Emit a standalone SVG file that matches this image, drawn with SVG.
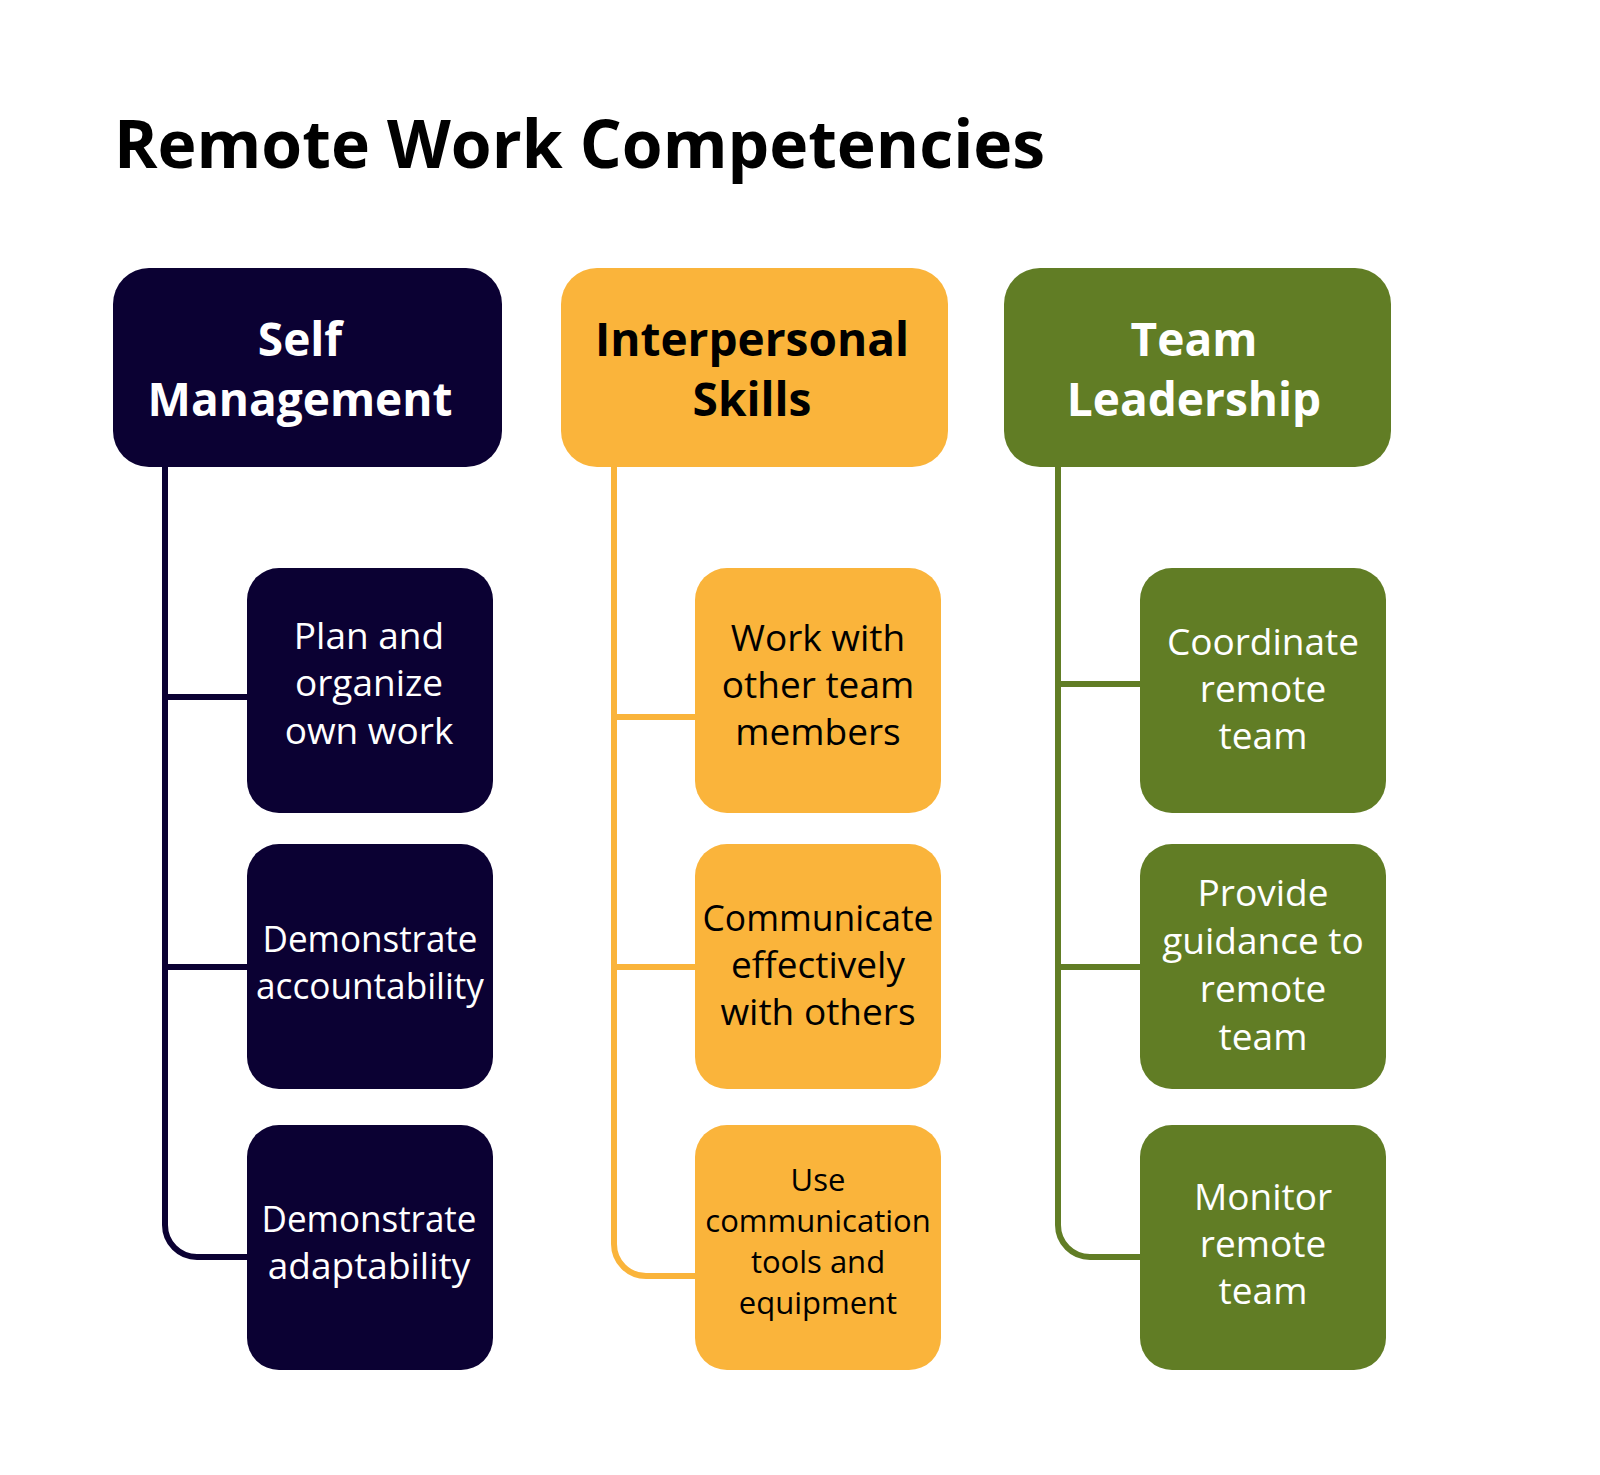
<svg xmlns="http://www.w3.org/2000/svg" width="1600" height="1475" viewBox="0 0 1600 1475">
<style>
text{font-family:"Open Sans","Noto Sans","DejaVu Sans",sans-serif;text-anchor:middle}
.title{font-size:66px;font-weight:700;text-anchor:start;fill:#000}
.h{font-size:46px;font-weight:700}
.c{font-size:37px}
.cs{font-size:31px}
.navy{fill:#0B0133}
.orange{fill:#FAB43B}
.green{fill:#617D25}
.w{fill:#fff}
.k{fill:#000}
.ln{fill:none;stroke-width:6}
</style>
<rect width="1600" height="1475" fill="#fff"/>
<text class="title" x="114" y="168">Remote Work Competencies</text>
<g id="connectors">
<path class="ln" stroke="#0B0133" d="M165 467 V1225 A32 32 0 0 0 197 1257 H247 M165 697 H247 M165 967 H247"/>
<path class="ln" stroke="#FAB43B" d="M614 467 V1244 A32 32 0 0 0 646 1276 H695 M614 717 H695 M614 967 H695"/>
<path class="ln" stroke="#617D25" d="M1058 467 V1225 A32 32 0 0 0 1090 1257 H1140 M1058 684 H1140 M1058 967 H1140"/>
</g>
<g id="self-management">
<rect class="navy" x="113" y="268" width="389" height="199" rx="36"/>
<text class="h w" x="300" y="356">Self</text>
<text class="h w" x="300" y="416">Management</text>
</g>
<g id="interpersonal-skills">
<rect class="orange" x="561" y="268" width="387" height="199" rx="36"/>
<text class="h k" x="752" y="356">Interpersonal</text>
<text class="h k" x="752" y="416">Skills</text>
</g>
<g id="team-leadership">
<rect class="green" x="1004" y="268" width="387" height="199" rx="36"/>
<text class="h w" x="1194" y="356">Team</text>
<text class="h w" x="1194" y="416">Leadership</text>
</g>
<g id="plan-organize">
<rect class="navy" x="247" y="568" width="246" height="245" rx="32"/>
<text class="c w" x="369" y="649">Plan and</text>
<text class="c w" x="369" y="696">organize</text>
<text class="c w" x="369" y="744">own work</text>
</g>
<g id="accountability">
<rect class="navy" x="247" y="844" width="246" height="245" rx="32"/>
<text class="c w" x="370" y="952" textLength="215" lengthAdjust="spacingAndGlyphs">Demonstrate</text>
<text class="c w" x="370" y="999" textLength="228" lengthAdjust="spacingAndGlyphs">accountability</text>
</g>
<g id="adaptability">
<rect class="navy" x="247" y="1125" width="246" height="245" rx="32"/>
<text class="c w" x="369" y="1232" textLength="215" lengthAdjust="spacingAndGlyphs">Demonstrate</text>
<text class="c w" x="369" y="1279">adaptability</text>
</g>
<g id="work-with-team">
<rect class="orange" x="695" y="568" width="246" height="245" rx="32"/>
<text class="c k" x="818" y="651">Work with</text>
<text class="c k" x="818" y="698">other team</text>
<text class="c k" x="818" y="745">members</text>
</g>
<g id="communicate">
<rect class="orange" x="695" y="844" width="246" height="245" rx="32"/>
<text class="c k" x="818" y="931" textLength="231" lengthAdjust="spacingAndGlyphs">Communicate</text>
<text class="c k" x="818" y="978">effectively</text>
<text class="c k" x="818" y="1025">with others</text>
</g>
<g id="use-tools">
<rect class="orange" x="695" y="1125" width="246" height="245" rx="32"/>
<text class="cs k" x="818" y="1191">Use</text>
<text class="cs k" x="818" y="1232">communication</text>
<text class="cs k" x="818" y="1273">tools and</text>
<text class="cs k" x="818" y="1314">equipment</text>
</g>
<g id="coordinate">
<rect class="green" x="1140" y="568" width="246" height="245" rx="32"/>
<text class="c w" x="1263" y="655">Coordinate</text>
<text class="c w" x="1263" y="702">remote</text>
<text class="c w" x="1263" y="749">team</text>
</g>
<g id="guidance">
<rect class="green" x="1140" y="844" width="246" height="245" rx="32"/>
<text class="c w" x="1263" y="906">Provide</text>
<text class="c w" x="1263" y="954">guidance to</text>
<text class="c w" x="1263" y="1002">remote</text>
<text class="c w" x="1263" y="1050">team</text>
</g>
<g id="monitor">
<rect class="green" x="1140" y="1125" width="246" height="245" rx="32"/>
<text class="c w" x="1263" y="1210">Monitor</text>
<text class="c w" x="1263" y="1257">remote</text>
<text class="c w" x="1263" y="1304">team</text>
</g>
</svg>
